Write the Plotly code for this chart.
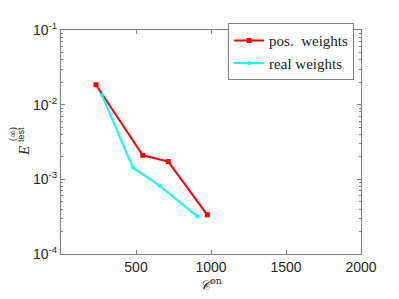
import plotly.graph_objects as go

pos_x = [233, 545, 715, 975]
pos_y = [0.0185, 0.0021, 0.00173, 0.000335]
real_x = [273, 478, 655, 907]
real_y = [0.01346, 0.00144, 0.000826, 0.000321]

ytickvals = [1e-4, 1e-3, 1e-2, 1e-1]
yticktext = ["10<sup>-4</sup>", "10<sup>-3</sup>", "10<sup>-2</sup>", "10<sup>-1</sup>"]
xtickvals = [500, 1000, 1500, 2000]

fig = go.Figure()
fig.add_trace(go.Scatter(x=pos_x, y=pos_y, mode="lines+markers", name="pos.  weights",
                         line=dict(color="#ff0000", width=2),
                         marker=dict(symbol="square", size=5, color="#ff0000")))
fig.add_trace(go.Scatter(x=real_x, y=real_y, mode="lines+markers", name="real weights",
                         line=dict(color="#00ffff", width=2),
                         marker=dict(symbol="circle", size=4, color="#00ffff")))

axis_common = dict(showline=True, linecolor="#808080", linewidth=1, mirror="ticks",
                   ticks="inside", ticklen=4, tickcolor="#808080", showgrid=False, zeroline=False,
                   tickfont=dict(family="Liberation Sans, Arial", size=14, color="#262626"))

fig.update_xaxes(range=[0, 2000], tickvals=xtickvals, **axis_common,
                 title=dict(text="<i>𝒞</i><sup>on</sup>", standoff=0,
                            font=dict(family="DejaVu Serif, serif", size=14, color="#262626")))
fig.update_yaxes(type="log", range=[-4, -1], tickvals=ytickvals, ticktext=yticktext, **axis_common,
                 minor=dict(ticks="inside", ticklen=2, tickcolor="#808080",
                            tickvals=[m * 10**e for e in (-4, -3, -2) for m in range(2, 10)]))

serif = "Liberation Serif, DejaVu Serif, serif"
fig.add_annotation(text="<i>E</i>", xref="paper", yref="paper", x=-0.123, y=0.46,
                   textangle=-90, showarrow=False, xanchor="center", yanchor="middle",
                   font=dict(family=serif, size=15, color="#262626"))
fig.add_annotation(text="(∞)", xref="paper", yref="paper", x=-0.160, y=0.536,
                   textangle=-90, showarrow=False, xanchor="center", yanchor="middle",
                   font=dict(family=serif, size=10, color="#262626"))
fig.add_annotation(text="test", xref="paper", yref="paper", x=-0.133, y=0.532,
                   textangle=-90, showarrow=False, xanchor="center", yanchor="middle",
                   font=dict(family="Liberation Sans, Arial", size=9, color="#262626"))

fig.update_layout(width=391, height=291, margin=dict(l=53, r=38, t=14, b=45),
                  plot_bgcolor="white", paper_bgcolor="white", showlegend=True,
                  legend=dict(x=0.977, y=1.03, xanchor="right", yanchor="top",
                              bgcolor="white", bordercolor="#808080", borderwidth=1,
                              font=dict(family=serif, size=15, color="#1a1a1a"),
                              tracegroupgap=0, itemwidth=30))

fig.write_html("out.html")
